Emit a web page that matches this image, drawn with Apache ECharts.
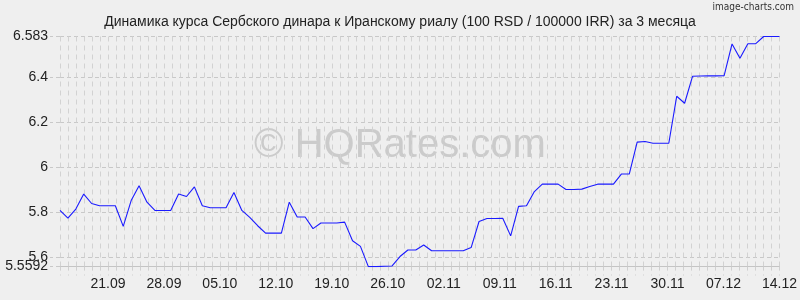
<!DOCTYPE html>
<html><head><meta charset="utf-8">
<script src="https://cdn.jsdelivr.net/npm/echarts@6/dist/echarts.min.js"></script>
<style>html,body{margin:0;padding:0;background:#efefef;}#c{width:800px;height:300px;}</style>
</head><body><div id="c"></div>
<script>
const titleText = 'Динамика курса Сербского динара к Иранскому риалу (100 RSD / 100000 IRR) за 3 месяца';
// calendar days shown on the axis (labels / grid)
const axisDays = [
 '15.09','16.09','17.09','18.09','19.09','20.09','21.09','22.09','23.09','24.09','25.09','26.09','27.09','28.09','29.09','30.09',
 '01.10','02.10','03.10','04.10','05.10','06.10','07.10','08.10','09.10','10.10','11.10','12.10','13.10','14.10','15.10','16.10',
 '17.10','18.10','19.10','20.10','21.10','22.10','23.10','24.10','25.10','26.10','27.10','28.10','29.10','30.10','31.10',
 '01.11','02.11','03.11','04.11','05.11','06.11','07.11','08.11','09.11','10.11','11.11','12.11','13.11','14.11','15.11',
 '16.11','17.11','18.11','19.11','20.11','21.11','22.11','23.11','24.11','25.11','26.11','27.11','28.11','29.11','30.11',
 '01.12','02.12','03.12','04.12','05.12','06.12','07.12','08.12','09.12','10.12','11.12','12.12','13.12','14.12'
];
// data points (92 observations)
const pointIds = [
 'p0','p1','p2','p3','p4','p5','p6','p7','p8','p9','p10','p11','p12','p13','p14','p15','p16','p17','p18','p19',
 'p20','p21','p22','p23','p24','p25','p26','p27','p28','p29','p30','p31','p32','p33','p34','p35','p36','p37','p38','p39',
 'p40','p41','p42','p43','p44','p45','p46','p47','p48','p49','p50','p51','p52','p53','p54','p55','p56','p57','p58','p59',
 'p60','p61','p62','p63','p64','p65','p66','p67','p68','p69','p70','p71','p72','p73','p74','p75','p76','p77','p78','p79',
 'p80','p81','p82','p83','p84','p85','p86','p87','p88','p89','p90','p91'
];
const rates = [
 5.809,5.775,5.815,5.882,5.840,5.830,5.830,5.830,5.738,5.853,5.919,5.846,5.809,5.809,5.809,5.882,
 5.871,5.914,5.830,5.821,5.821,5.821,5.889,5.809,5.778,5.741,5.708,5.708,5.708,5.846,5.780,5.780,
 5.728,5.753,5.753,5.753,5.757,5.674,5.649,5.5592,5.5592,5.561,5.562,5.604,5.633,5.633,5.655,
 5.630,5.630,5.630,5.630,5.630,5.644,5.760,5.773,5.773,5.774,5.696,5.827,5.830,5.893,5.926,
 5.926,5.926,5.902,5.902,5.904,5.916,5.926,5.926,5.926,5.971,5.971,6.113,6.116,6.108,6.108,
 6.108,6.317,6.286,6.406,6.407,6.408,6.408,6.409,6.550,6.486,6.551,6.551,6.583,6.583,6.583
];
const xTickLabels = ['21.09','28.09','05.10','12.10','19.10','26.10','02.11','09.11','16.11','23.11','30.11','07.12','14.12'];
const yTickValues = [5.5592, 5.6, 5.8, 6, 6.2, 6.4, 6.583];
const yLabelValues = [5.6, 5.8, 6, 6.2, 6.4, 6.583];
const yMinLabel = [5.5592];
const yMin = 5.5592, yMax = 6.583;

const chart = echarts.init(document.getElementById('c'), null, {renderer:'canvas'});
const FONT = '"Liberation Sans", Arial, sans-serif';
const labelBase = {margin: 12, fontFamily: FONT, fontSize: 14, color: '#222', hideOverlap: false, formatter: v => String(v)};
chart.setOption({
  backgroundColor: '#efefef',
  animation: false,
  title: {
    text: titleText, left: 'center', top: 10,
    textStyle: {fontFamily: FONT, fontSize: 14, fontWeight: 'normal', color: '#222'}
  },
  graphic: [
    {type:'text', right: 6, top: 2, style:{text:'image-charts.com', fontFamily:'"DejaVu Sans Condensed", "Liberation Sans Narrow", sans-serif', fontSize:10, fill:'#333'}},
    {type:'text', left: 'center', top: 126, z: 0, style:{text:'© HQRates.com', fontFamily: FONT, fontSize: 40, fill:'#cbcbcb'}}
  ],
  grid: {left: 60, right: 20, top: 36.5, bottom: 33.4, containLabel: false},
  xAxis: [{
    type: 'category', data: axisDays, boundaryGap: false, position: 'bottom',
    axisLine: {show: true, lineStyle: {color: '#c4c4c4', width: 1}},
    axisTick: {show: true, interval: 0, length: 9, lineStyle: {color: '#d0d0d0', type: [4,4]}},
    splitLine: {show: true, interval: 0, lineStyle: {color: '#d2d2d2', type: [5,4]}},
    axisLabel: {
      interval: (i, v) => xTickLabels.indexOf(v) >= 0,
      margin: 11, fontFamily: FONT, fontSize: 14, color: '#222', hideOverlap: false
    }
  }, {
    type: 'category', data: pointIds, boundaryGap: false, show: false, position: 'bottom'
  }],
  yAxis: [{
    type: 'value', min: yMin, max: yMax, position: 'left',
    axisLine: {show: false},
    axisTick: {show: true, length: 10, customValues: yTickValues, lineStyle: {color: '#c8c8c8', type: [4,3]}},
    splitLine: {show: true, lineStyle: {color: '#c8c8c8', type: [4,3]}},
    axisLabel: Object.assign({customValues: yLabelValues, verticalAlign: 'bottom', padding: [0,0,-7,0]}, labelBase)
  }, {
    type: 'value', min: yMin, max: yMax, position: 'left',
    axisLine: {show: false}, axisTick: {show: false}, splitLine: {show: false},
    axisLabel: Object.assign({customValues: yMinLabel, showMinLabel: true, verticalAlign: 'middle', padding: [2,0,0,0]}, labelBase)
  }],
  series: [{
    type: 'line', data: rates, xAxisIndex: 1, yAxisIndex: 0, showSymbol: false, symbol: 'none',
    lineStyle: {color: '#1a1aff', width: 1.1}, z: 5
  }]
});
</script></body></html>
